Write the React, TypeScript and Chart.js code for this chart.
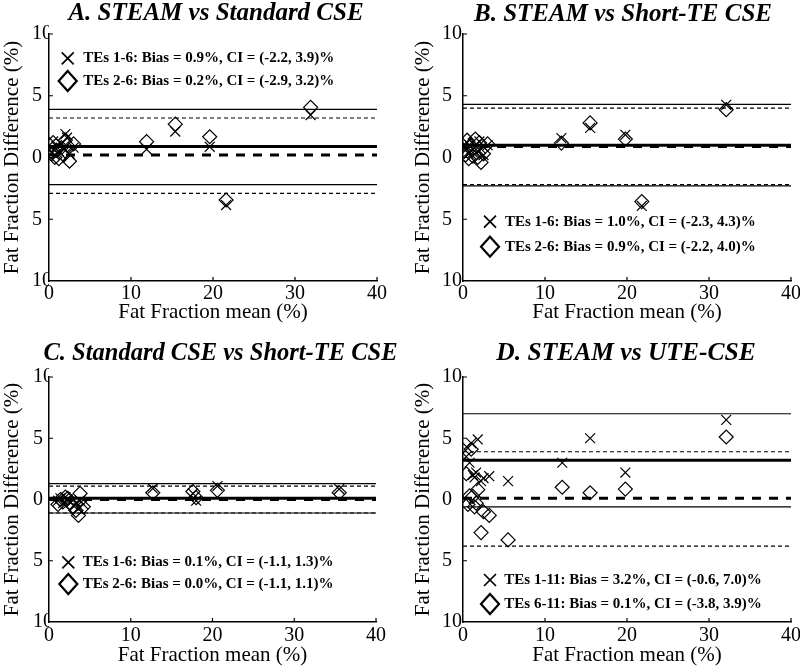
import React, { useEffect, useRef } from 'react';
import { Chart, registerables } from 'chart.js';

Chart.register(...registerables);

const FONT = "'Times New Roman', 'Liberation Serif', Times, serif";

// ---------- data ----------
const panelTitles = [
  'A. STEAM vs Standard CSE',
  'B. STEAM vs Short-TE CSE',
  'C. Standard CSE vs Short-TE CSE',
  'D. STEAM vs UTE-CSE',
];
const crossLabels = [
  'TEs 1-6: Bias = 0.9%, CI = (-2.2, 3.9)%',
  'TEs 1-6: Bias = 1.0%, CI = (-2.3, 4.3)%',
  'TEs 1-6: Bias = 0.1%, CI = (-1.1, 1.3)%',
  'TEs 1-11: Bias = 3.2%, CI = (-0.6, 7.0)%',
];
const diamondLabels = [
  'TEs 2-6: Bias = 0.2%, CI = (-2.9, 3.2)%',
  'TEs 2-6: Bias = 0.9%, CI = (-2.2, 4.0)%',
  'TEs 2-6: Bias = 0.0%, CI = (-1.1, 1.1)%',
  'TEs 6-11: Bias = 0.1%, CI = (-3.8, 3.9)%',
];
const crossBias = [0.9, 1.0, 0.1, 3.2];
const crossLow = [-2.2, -2.3, -1.1, -0.6];
const crossHigh = [3.9, 4.3, 1.3, 7.0];
const diamondBias = [0.2, 0.9, 0.0, 0.1];
const diamondLow = [-2.9, -2.2, -1.1, -3.8];
const diamondHigh = [3.2, 4.0, 1.1, 3.9];

const xTicks = [0, 10, 20, 30, 40];
const yTicks = [-10, -5, 0, 5, 10];
const yTickLabels = ['10', '5', '0', '5', '10'];
const xAxisTitle = 'Fat Fraction mean (%)';
const yAxisTitle = 'Fat Fraction Difference (%)';

// Panel A
const aMean = [0.3, 0.5, 0.7, 0.9, 1.2, 1.5, 1.8, 2.0, 2.2, 2.5, 3.0, 11.9, 15.4, 19.6, 21.6, 31.9];
const aCross = [0.4, 1.3, 0.2, 0.9, 0.5, 1.1, 0.7, 1.9, 1.6, 0.3, 0.8, 0.66, 2.1, 0.87, -3.85, 3.44];
const aDiamond = [0.3, 1.2, 0.0, 0.6, -0.1, 0.8, 0.2, 1.4, 1.0, -0.3, 1.1, 1.28, 2.7, 1.68, -3.44, 4.06];
// Panel B
const bMean = [0.3, 0.5, 0.7, 0.9, 1.2, 1.5, 1.8, 2.0, 2.2, 2.5, 3.0, 12.0, 15.5, 19.8, 21.8, 32.1];
const bCross = [0.6, 1.2, 0.3, 0.9, 0.4, 1.0, 0.5, 1.3, 0.7, 0.2, 1.0, 1.57, 2.4, 1.84, -3.92, 4.27];
const bDiamond = [0.2, 1.4, -0.1, 1.0, 0.1, 1.5, 0.0, 1.2, -0.4, 0.3, 1.1, 1.17, 2.8, 1.49, -3.57, 3.87];
// Panel C
const cMean = [1.1, 1.4, 1.7, 2.0, 2.3, 2.6, 3.0, 3.3, 3.6, 3.8, 4.2, 12.7, 17.6, 18.0, 20.6, 35.5];
const cCross = [-0.1, 0.1, -0.3, 0.2, 0.0, -0.2, -0.5, -0.3, -0.7, -0.1, -0.4, 0.9, 0.5, -0.1, 1.1, 0.85];
const cDiamond = [-0.4, 0.0, -0.2, 0.2, 0.1, -0.3, -0.6, -0.9, -1.3, 0.5, -0.6, 0.55, 0.65, 0.15, 0.75, 0.55];
// Panel D
const dMean = [0.4, 0.6, 0.8, 1.0, 1.2, 1.4, 1.6, 1.8, 2.2, 2.5, 3.2, 5.5, 12.1, 15.5, 19.8, 32.1];
const dCross = [3.5, 4.2, 3.0, 4.6, 2.0, 1.8, 2.2, 4.9, 1.5, 1.75, 1.9, 1.5, 3.0, 5.0, 2.2, 6.5];
const dDiamond = [2.1, -0.4, 0.3, 4.1, 0.25, -0.6, -0.3, 0.8, -2.7, -1.0, -1.3, -3.3, 1.0, 0.55, 0.85, 5.1];

const means = [aMean, bMean, cMean, dMean];
const crossVals = [aCross, bCross, cCross, dCross];
const diamondVals = [aDiamond, bDiamond, cDiamond, dDiamond];

// ---------- layout (per panel) ----------
type Layout = {
  left: number; top: number;
  padL: number; padR: number; padT: number; yW: number; yTitlePad: number;
  titleSize: number; titleDx: number; titleBase: number;
  xH: number; xTickPad: number; xTitlePad: number;
  legX: number; legY1: number; legY2: number; legTx: number;
};
const layouts: Layout[] = [
  { left: 0, top: 0, padL: 32, padR: 23, padT: 34, yW: 17, yTitlePad: -32.6, titleSize: 25, titleDx: 3, titleBase: 19.5, xH: 53, xTickPad: 0.5, xTitlePad: 9.4, legX: 18.7, legY1: 24.3, legY2: 47, legTx: 34.3 },
  { left: 400, top: 0, padL: 42, padR: 9, padT: 34, yW: 21, yTitlePad: -31.6, titleSize: 25, titleDx: -4, titleBase: 20.5, xH: 53, xTickPad: 0.5, xTitlePad: 9.4, legX: 27, legY1: 187.7, legY2: 212.7, legTx: 42 },
  { left: 0, top: 334, padL: 33, padR: 24, padT: 43, yW: 16, yTitlePad: -33.6, titleSize: 24.5, titleDx: 8, titleBase: 26, xH: 46, xTickPad: 1.5, xTitlePad: 0.4, legX: 19.3, legY1: 185.3, legY2: 207, legTx: 33.7 },
  { left: 400, top: 334, padL: 42, padR: 9, padT: 43, yW: 21, yTitlePad: -31.6, titleSize: 25.5, titleDx: -1, titleBase: 25.5, xH: 46, xTickPad: 1.5, xTitlePad: 0.4, legX: 27, legY1: 203, legY2: 227, legTx: 41.3 },
];

const BLACK = '#000';

function hline(y: number, width: number, dash: number[]) {
  return {
    data: [{ x: xTicks[0], y }, { x: xTicks[xTicks.length - 1], y }],
    showLine: true,
    borderColor: BLACK,
    borderWidth: width,
    borderDash: dash,
    pointRadius: 0,
    pointHoverRadius: 0,
    fill: false,
    order: 5,
  };
}

function buildConfig(i: number): any {
  const lay = layouts[i];
  const tickFont = { family: FONT, size: 20 };
  const axisTitleFont = { family: FONT, size: 21 };

  const panelTitle = {
    id: 'panelTitle',
    afterDraw(chart: any) {
      const { ctx, chartArea: a } = chart;
      ctx.save();
      ctx.fillStyle = BLACK;
      ctx.font = `italic bold ${lay.titleSize}px ${FONT}`;
      ctx.textAlign = 'center';
      ctx.textBaseline = 'alphabetic';
      ctx.fillText(panelTitles[i], (a.left + a.right) / 2 + lay.titleDx, lay.titleBase);
      ctx.restore();
    },
  };

  const inwardTicks = {
    id: 'inwardTicks',
    afterDraw(chart: any) {
      const { ctx } = chart;
      const xs = chart.scales.x;
      const ys = chart.scales.y;
      ctx.save();
      ctx.strokeStyle = BLACK;
      ctx.lineWidth = 1.2;
      ctx.beginPath();
      xs.ticks.forEach((t: any) => {
        if (t.value === xs.min) return;
        const px = xs.getPixelForValue(t.value);
        ctx.moveTo(px, ys.bottom);
        ctx.lineTo(px, ys.bottom - 4);
      });
      ys.ticks.forEach((t: any) => {
        if (t.value === ys.min) return;
        const py = ys.getPixelForValue(t.value);
        ctx.moveTo(xs.left, py);
        ctx.lineTo(xs.left + 4, py);
      });
      ctx.stroke();
      ctx.restore();
    },
  };

  const markerLegend = {
    id: 'markerLegend',
    afterDraw(chart: any) {
      const { ctx, chartArea: a } = chart;
      const cx = a.left + lay.legX;
      const cy1 = a.top + lay.legY1;
      const cy2 = a.top + lay.legY2;
      ctx.save();
      ctx.strokeStyle = BLACK;
      ctx.lineWidth = 1.7;
      ctx.beginPath();
      ctx.moveTo(cx - 6, cy1 - 6); ctx.lineTo(cx + 6, cy1 + 6);
      ctx.moveTo(cx + 6, cy1 - 6); ctx.lineTo(cx - 6, cy1 + 6);
      ctx.stroke();
      ctx.lineWidth = 2.2;
      ctx.beginPath();
      ctx.moveTo(cx, cy2 - 10); ctx.lineTo(cx + 9, cy2);
      ctx.lineTo(cx, cy2 + 10); ctx.lineTo(cx - 9, cy2);
      ctx.closePath();
      ctx.stroke();
      ctx.fillStyle = BLACK;
      ctx.font = `bold 15px ${FONT}`;
      ctx.textAlign = 'left';
      ctx.textBaseline = 'middle';
      ctx.fillText(crossLabels[i], a.left + lay.legTx, cy1);
      ctx.fillText(diamondLabels[i], a.left + lay.legTx, cy2);
      ctx.restore();
    },
  };

  return {
    type: 'scatter',
    data: {
      datasets: [
        {
          label: crossLabels[i],
          data: means[i].map((x, k) => ({ x, y: crossVals[i][k] })),
          pointStyle: 'crossRot',
          pointRadius: 7,
          pointHoverRadius: 7,
          borderColor: BLACK,
          backgroundColor: 'rgba(0,0,0,0)',
          borderWidth: 1.2,
          order: 1,
        },
        {
          label: diamondLabels[i],
          data: means[i].map((x, k) => ({ x, y: diamondVals[i][k] })),
          pointStyle: 'rectRot',
          pointRadius: 7,
          pointHoverRadius: 7,
          borderColor: BLACK,
          backgroundColor: 'rgba(0,0,0,0)',
          borderWidth: 1.2,
          order: 2,
        },
        hline(crossBias[i], 3, []),
        hline(crossLow[i], 1.2, []),
        hline(crossHigh[i], 1.2, []),
        hline(diamondBias[i], 3, [9, 8]),
        hline(diamondLow[i], 1.2, [4, 3]),
        hline(diamondHigh[i], 1.2, [4, 3]),
      ],
    },
    options: {
      responsive: false,
      animation: false,
      events: [],
      layout: { padding: { left: lay.padL, right: lay.padR, top: lay.padT, bottom: 0 } },
      plugins: {
        legend: { display: false },
        tooltip: { enabled: false },
        title: { display: false },
      },
      scales: {
        x: {
          type: 'linear',
          min: xTicks[0],
          max: xTicks[xTicks.length - 1],
          afterFit: (s: any) => { s.height = lay.xH; s.paddingLeft = 0; s.paddingRight = 0; },
          afterBuildTicks: (s: any) => { s.ticks = xTicks.map((v) => ({ value: v })); },
          ticks: { color: BLACK, font: tickFont, padding: lay.xTickPad, maxRotation: 0, autoSkip: false },
          grid: { display: true, drawOnChartArea: false, drawTicks: false },
          border: { display: true, color: BLACK, width: 1.5 },
          title: {
            display: true,
            text: xAxisTitle,
            color: BLACK,
            font: axisTitleFont,
            padding: { top: 0, bottom: lay.xTitlePad },
          },
        },
        y: {
          type: 'linear',
          min: yTicks[0],
          max: yTicks[yTicks.length - 1],
          afterFit: (s: any) => { s.width = lay.yW; s.paddingTop = 0; s.paddingBottom = 0; },
          afterBuildTicks: (s: any) => { s.ticks = yTicks.map((v) => ({ value: v })); },
          ticks: {
            color: BLACK,
            font: tickFont,
            padding: 0,
            crossAlign: 'far',
            autoSkip: false,
            callback: (v: any) => yTickLabels[yTicks.indexOf(Number(v))],
          },
          grid: { display: true, drawOnChartArea: false, drawTicks: false },
          border: { display: true, color: BLACK, width: 1.5 },
          title: {
            display: true,
            text: yAxisTitle,
            color: BLACK,
            font: axisTitleFont,
            padding: { top: lay.yTitlePad, bottom: 0 },
          },
        },
      },
    },
    plugins: [panelTitle, inwardTicks, markerLegend],
  };
}

function Panel({ index }: { index: number }) {
  const ref = useRef<HTMLCanvasElement>(null);
  useEffect(() => {
    if (!ref.current) return;
    const chart = new Chart(ref.current, buildConfig(index));
    return () => chart.destroy();
  }, [index]);
  const lay = layouts[index];
  return (
    <canvas
      ref={ref}
      width={400}
      height={334}
      style={{ position: 'absolute', left: lay.left, top: lay.top, width: 400, height: 334 }}
    />
  );
}

export default function App() {
  return (
    <div style={{ position: 'absolute', left: 0, top: 0, width: 800, height: 668, background: '#fff' }}>
      {[0, 1, 2, 3].map((i) => (
        <Panel key={i} index={i} />
      ))}
    </div>
  );
}
